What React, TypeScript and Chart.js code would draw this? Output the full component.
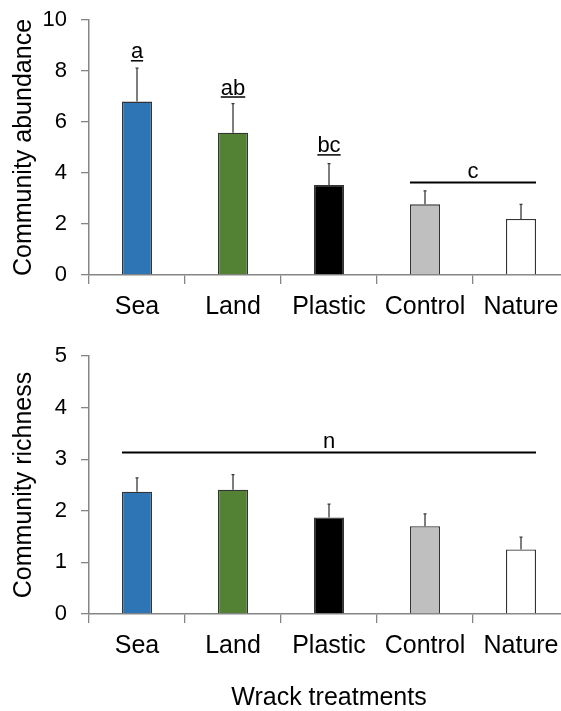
import { useEffect, useRef } from 'react';
import { Chart, registerables } from 'chart.js';

Chart.register(...registerables);

const FONT = "'Liberation Sans', Arial, Helvetica, sans-serif";
const AXIS = '#858585';

const treatments = ['Sea', 'Land', 'Plastic', 'Control', 'Nature'];
const fillColors = ['#2E75B6', '#548235', '#000000', '#BFBFBF', '#FFFFFF'];

// Community abundance: means, upper standard errors, Tukey letters
const abundanceMean = [6.8, 5.58, 3.53, 2.77, 2.2];
const abundanceSE = [1.31, 1.14, 0.84, 0.53, 0.57];
const abundanceLetters = ['a', 'ab', 'bc', '', ''];
const abundanceLetterLevels = [8.4, 6.98, 4.71, 0, 0];
const abundanceTicks = [0, 2, 4, 6, 8, 10];
const abundanceGroups = [{ label: 'c', first: 3, last: 4, level: 3.63 }];

// Community richness
const richnessMean = [2.37, 2.41, 1.87, 1.7, 1.25];
const richnessSE = [0.27, 0.29, 0.26, 0.24, 0.24];
const richnessLetters = ['', '', '', '', ''];
const richnessLetterLevels = [0, 0, 0, 0, 0];
const richnessTicks = [0, 1, 2, 3, 4, 5];
const richnessGroups = [{ label: 'n', first: 0, last: 4, level: 3.13 }];

type Group = { label: string; first: number; last: number; level: number };

function marksPlugin(mean: number[], se: number[], letters: string[], levels: number[], groups: Group[]) {
  return {
    id: 'marks',
    afterDatasetsDraw(chart: any) {
      const ctx = chart.ctx as CanvasRenderingContext2D;
      const y = chart.scales.y;
      const bars = chart.getDatasetMeta(0).data as any[];
      ctx.save();
      // upper error bars
      ctx.strokeStyle = '#3a3a3a';
      ctx.lineWidth = 1.3;
      bars.forEach((bar, i) => {
        const base = y.getPixelForValue(mean[i]);
        const top = y.getPixelForValue(mean[i] + se[i]);
        ctx.beginPath();
        ctx.moveTo(bar.x, base);
        ctx.lineTo(bar.x, top);
        ctx.moveTo(bar.x - 1.5, top);
        ctx.lineTo(bar.x + 1.5, top);
        ctx.stroke();
      });
      // underlined significance letters
      ctx.font = `22px ${FONT}`;
      ctx.fillStyle = '#000';
      ctx.strokeStyle = '#000';
      ctx.textAlign = 'center';
      ctx.textBaseline = 'alphabetic';
      letters.forEach((t, i) => {
        if (!t) return;
        const ly = y.getPixelForValue(levels[i]);
        const w = ctx.measureText(t).width;
        ctx.fillText(t, bars[i].x, ly - 2.5);
        ctx.lineWidth = 1.5;
        ctx.beginPath();
        ctx.moveTo(bars[i].x - w / 2, ly);
        ctx.lineTo(bars[i].x + w / 2, ly);
        ctx.stroke();
      });
      // brackets shared by several treatments
      groups.forEach((g) => {
        const ly = y.getPixelForValue(g.level);
        const x0 = bars[g.first].x - bars[g.first].width / 2;
        const x1 = bars[g.last].x + bars[g.last].width / 2;
        ctx.lineWidth = 2;
        ctx.beginPath();
        ctx.moveTo(x0, ly);
        ctx.lineTo(x1, ly);
        ctx.stroke();
        ctx.fillText(g.label, (x0 + x1) / 2, ly - 4);
      });
      ctx.restore();
    },
  };
}

type PanelProps = {
  top: number;
  height: number;
  mean: number[];
  se: number[];
  letters: string[];
  levels: number[];
  groups: Group[];
  ticks: number[];
  max: number;
  yTitle: string;
  xTitle?: string;
  padTop: number;
  xAxisHeight: number;
};

function Panel(p: PanelProps) {
  const ref = useRef<HTMLCanvasElement>(null);
  useEffect(() => {
    const canvas = ref.current!;
    const chart = new Chart(canvas, {
      type: 'bar',
      data: {
        labels: treatments,
        datasets: [
          {
            data: p.mean,
            backgroundColor: fillColors,
            borderColor: '#333333',
            borderWidth: 1.3,
            categoryPercentage: 1,
            barPercentage: 0.3125,
          },
        ],
      },
      options: {
        animation: false,
        responsive: false,
        maintainAspectRatio: false,
        layout: { padding: { top: p.padTop, right: 11, left: 0, bottom: 0 } },
        plugins: { legend: { display: false }, tooltip: { enabled: false } },
        scales: {
          x: {
            grid: { offset: true, drawOnChartArea: false, drawTicks: true, tickLength: 9, color: AXIS, lineWidth: 1.3 },
            border: { color: AXIS, width: 1.5 },
            ticks: { font: { size: 25, family: FONT }, color: '#000', padding: 8, maxRotation: 0, autoSkip: false },
            title: p.xTitle
              ? { display: true, text: p.xTitle, color: '#000', font: { size: 25, family: FONT, lineHeight: 1 }, padding: { top: 0, bottom: 0 } }
              : { display: false },
            afterFit: (s: any) => {
              s.height = p.xAxisHeight;
            },
          },
          y: {
            min: 0,
            max: p.max,
            afterBuildTicks: (s: any) => {
              s.ticks = p.ticks.map((v) => ({ value: v }));
            },
            grid: { drawOnChartArea: false, tickLength: 8, color: AXIS, lineWidth: 1.3 },
            border: { color: AXIS, width: 1.5 },
            ticks: { font: { size: 22, family: FONT }, color: '#000', padding: 14 },
            title: {
              display: true,
              text: p.yTitle,
              color: '#000',
              font: { size: 25, family: FONT, lineHeight: 1 },
              padding: { top: 12, bottom: 0 },
            },
            afterFit: (s: any) => {
              s.width = 89;
              s.paddingTop = 0;
              s.paddingBottom = 0;
            },
          },
        },
      } as any,
      plugins: [marksPlugin(p.mean, p.se, p.letters, p.levels, p.groups)],
    });
    return () => chart.destroy();
  }, []);
  return (
    <canvas
      ref={ref}
      width={580}
      height={p.height}
      style={{ position: 'absolute', left: 0, top: p.top, width: 580, height: p.height }}
    />
  );
}

export default function App() {
  return (
    <div style={{ position: 'absolute', left: 0, top: 0, width: 561, height: 711, overflow: 'hidden', background: '#fff' }}>
      <Panel
        top={0}
        height={330}
        mean={abundanceMean}
        se={abundanceSE}
        letters={abundanceLetters}
        levels={abundanceLetterLevels}
        groups={abundanceGroups}
        ticks={abundanceTicks}
        max={10}
        yTitle="Community abundance"
        padTop={20}
        xAxisHeight={55}
      />
      <Panel
        top={330}
        height={381}
        mean={richnessMean}
        se={richnessSE}
        letters={richnessLetters}
        levels={richnessLetterLevels}
        groups={richnessGroups}
        ticks={richnessTicks}
        max={5}
        yTitle="Community richness"
        xTitle="Wrack treatments"
        padTop={26}
        xAxisHeight={97}
      />
    </div>
  );
}
